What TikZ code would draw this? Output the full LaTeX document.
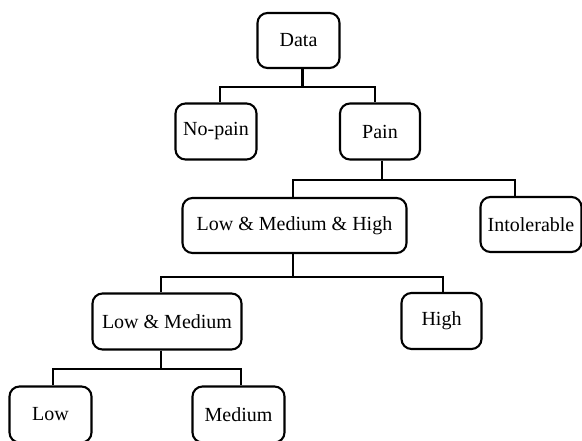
\documentclass[tikz,border=0pt]{standalone}
\usepackage{fontspec}
\setmainfont{Liberation Serif}
\usepackage{tikz}
\usetikzlibrary{calc,positioning}

\tikzset{
	box/.style={draw, line width=2.1pt, rounded corners=10pt, inner sep=0pt, minimum height=56pt, font=\fontsize{20}{24}\selectfont},
	link/.style={line width=2.1pt}
}

\begin{document}
\begin{tikzpicture} [x=1pt, y=-1pt]
		
		\useasboundingbox (0,0) rectangle (582,440);
		
		\begin{scope}
		
		\node (Data) [box, minimum width=82pt, minimum height=55pt] at (298.5,40.5) {Data};
		
		\node (No_pain) [box, minimum width=81pt] at (216,131.5) {No-pain};
		
		\node (Pain) [box, minimum width=80pt] at (380,131.5) {Pain};
		
		\node (LMH) [box, minimum width=224pt, minimum height=55pt] at (294.5,225.5) {Low \& Medium \& High};
		
		\node (Intol) [box, minimum width=101pt, minimum height=55pt] at (531,224.5) {Intolerable};
		
		\end{scope}
		
		
		\begin{scope}
		
		\node (LM) [box, minimum width=149pt] at (167,321.5) {Low \& Medium};
		
		\node (High) [box, minimum width=80pt] at (441.5,321) {High};
		
		\node (Low) [box, minimum width=82pt] at (50.5,414.5) {Low};
		
		\node (Medium) [box, minimum width=92pt] at (238.5,414.5) {Medium};
		
		\end{scope}
		
		
		\draw [link] ($(Data.south) + (4,0)$) -- ++(0,18) -| ($(No_pain.north) + (4,0)$);
		
		\draw [link] ($(Data.south) + (4,0)$) -- ++(0,18) -| ($(Pain.north) + (-5,0)$);
		
		\draw [link] ($(Pain.south) + (2,0)$) -- ++(0,19) -| ($(LMH.north) + (-1.5,0)$);
		
		\draw [link] ($(Pain.south) + (2,0)$) -- ++(0,19) -| ($(Intol.north) + (-16,0)$);
		
		\draw [link] ($(LMH.south) + (-1.5,0)$) -- ++(0,23) -| ($(LM.north) + (-6,0)$);
		
		\draw [link] ($(LMH.south) + (-1.5,0)$) -- ++(0,23) -| ($(High.north) + (1.5,0)$);
		
		\draw [link] ($(LM.south) + (-6,0)$) -- ++(0,18) -| ($(Low.north) + (2.5,0)$);
		
		\draw [link] ($(LM.south) + (-6,0)$) -- ++(0,18) -| ($(Medium.north) + (2.5,0)$);
		
		
		\end{tikzpicture}
\end{document}
